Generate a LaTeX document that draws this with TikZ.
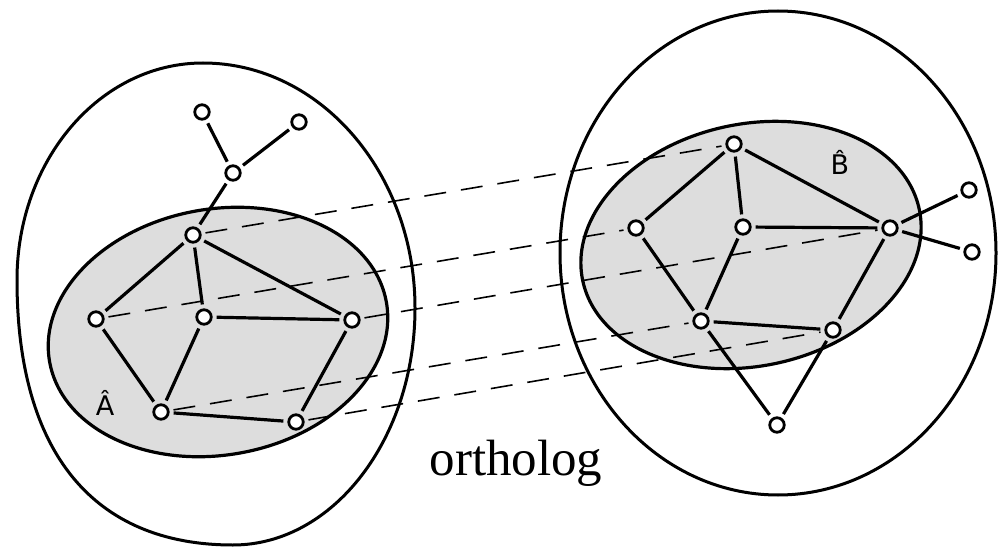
\documentclass[tikz,border=0pt]{standalone}
\usepackage{fontspec}
\newfontfamily\captionserif{Liberation Serif}
\newfontfamily\labelsans{DejaVu Sans}
\definecolor{regiongray}{RGB}{221,221,221}
\begin{document}
\begin{tikzpicture}[x=1pt,y=-1pt,
  vtx/.style={circle,draw,line width=2.8pt,fill=white,inner sep=0pt,minimum size=14.5pt},
  edge/.style={line width=3.2pt,shorten >=4pt,shorten <=4pt},
  orth/.style={line width=1.6pt,dash pattern=on 22pt off 15pt,shorten >=4pt,shorten <=4pt},
  region/.style={line width=3.2pt,fill=regiongray},
  shell/.style={line width=3pt},
  setlabel/.style={font=\labelsans\fontsize{27}{30}\selectfont,anchor=base,inner sep=0pt}]
\useasboundingbox (0,0) rectangle (999,548);

% outer shells
\draw[shell] (203,63) .. controls (320,63) and (415,173) .. (415,308)
  .. controls (415,439) and (333,545) .. (233,545)
  .. controls (93,545) and (17,452) .. (17,280)
  .. controls (17,160) and (100,63) .. (203,63) -- cycle;
\draw[shell] (778,253) ellipse [x radius=218pt, y radius=242pt];

% shaded subnetworks
\draw[region, rotate around={10:(218,332)}] (218,332) ellipse [x radius=171pt, y radius=123pt];
\draw[region, rotate around={12:(751,245)}] (751,245) ellipse [x radius=172pt, y radius=121pt];

% left network
\node[vtx] (lt1) at (202,112) {};
\node[vtx] (lt2) at (299,122) {};
\node[vtx] (lm)  at (233,173) {};
\node[vtx] (a1)  at (193,235) {};
\node[vtx] (a2)  at (96,319) {};
\node[vtx] (a3)  at (204,317) {};
\node[vtx] (a4)  at (352,320) {};
\node[vtx] (a5)  at (161,412) {};
\node[vtx] (a6)  at (296,422) {};

% right network
\node[vtx] (b1) at (734,144) {};
\node[vtx] (b2) at (636,228) {};
\node[vtx] (b3) at (743,227) {};
\node[vtx] (b4) at (890,228) {};
\node[vtx] (b5) at (701,321) {};
\node[vtx] (b6) at (833,330) {};
\node[vtx] (b7) at (777,425) {};
\node[vtx] (b8) at (969,190) {};
\node[vtx] (b9) at (972,252) {};

% ortholog correspondences
\draw[orth] (a1) -- (b1);
\draw[orth] (a2) -- (b2);
\draw[orth] (a4) -- (b4);
\draw[orth] (a5) -- (b5);
\draw[orth] (a6) -- (b6);

% interactions, left
\draw[edge] (lt1) -- (lm);
\draw[edge] (lt2) -- (lm);
\draw[edge] (lm) -- (a1);
\draw[edge] (a1) -- (a2);
\draw[edge] (a1) -- (a3);
\draw[edge] (a1) -- (a4);
\draw[edge] (a3) -- (a4);
\draw[edge] (a2) -- (a5);
\draw[edge] (a3) -- (a5);
\draw[edge] (a5) -- (a6);
\draw[edge] (a4) -- (a6);

% interactions, right
\draw[edge] (b1) -- (b2);
\draw[edge] (b1) -- (b3);
\draw[edge] (b1) -- (b4);
\draw[edge] (b3) -- (b4);
\draw[edge] (b2) -- (b5);
\draw[edge] (b3) -- (b5);
\draw[edge] (b5) -- (b6);
\draw[edge] (b4) -- (b6);
\draw[edge] (b5) -- (b7);
\draw[edge] (b6) -- (b7);
\draw[edge] (b4) -- (b8);
\draw[edge] (b4) -- (b9);

% labels
\node[setlabel] (labA) at (105,415) {Â};
\node[setlabel] (labB) at (840,175) {B̂};
\node[font=\captionserif\fontsize{51}{56}\selectfont,anchor=base,inner sep=0pt] (orth) at (516,475) {ortholog};
\end{tikzpicture}
\end{document}
